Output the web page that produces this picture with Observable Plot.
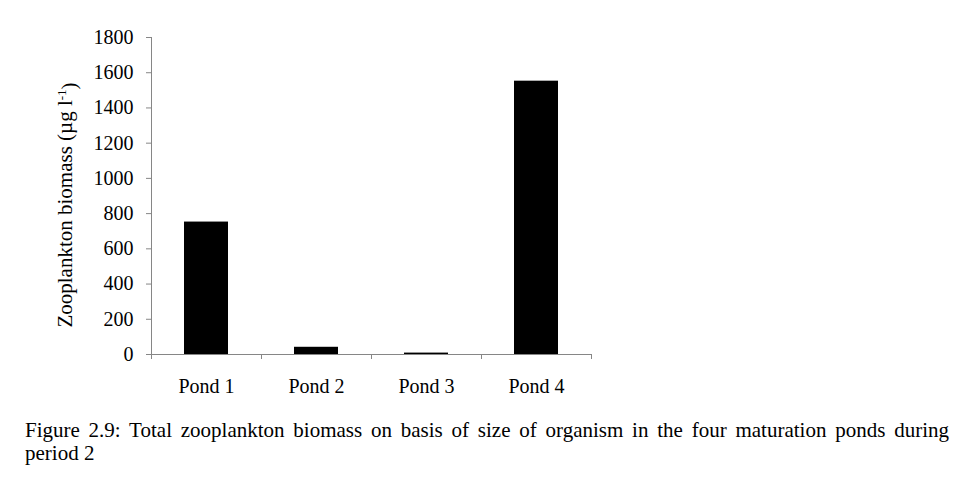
<!DOCTYPE html>
<html>
<head>
<meta charset="utf-8">
<script src="https://cdn.jsdelivr.net/npm/d3@7"></script>
<script src="https://cdn.jsdelivr.net/npm/@observablehq/plot@0.6"></script>
<style>
  html, body { margin: 0; padding: 0; background: #fff; }
  #wrap { position: relative; width: 969px; height: 483px; font-family: "Liberation Serif", "Times New Roman", serif; }
  #caption { position: absolute; left: 25px; top: 419px; width: 924px; font-size: 21px; line-height: 23px;
    text-align: justify; text-align-last: left; color: #000; }
</style>
</head>
<body>
<div id="wrap">
  <div id="chart"></div>
  <div id="caption">Figure 2.9: Total zooplankton biomass on basis of size of organism in the four maturation ponds during period 2</div>
</div>
<script>
const ponds = ["Pond 1", "Pond 2", "Pond 3", "Pond 4"];
const biomass = [752, 41, 8, 1552];
const yTicks = [0, 200, 400, 600, 800, 1000, 1200, 1400, 1600, 1800];

const data = ponds.map((p, i) => ({pond: p, idx: i, value: biomass[i]}));
const bounds = d3.range(ponds.length + 1);
const centers = ponds.map((p, i) => i + 0.5);

const axisColor = "#868686";
const plot = Plot.plot({
  width: 969,
  height: 400,
  marginLeft: 151,
  marginRight: 378,
  marginTop: 37,
  marginBottom: 46,
  style: {fontFamily: "'Liberation Serif', 'Times New Roman', serif", fontSize: "20px", color: "#000", background: "#fff"},
  x: {domain: [0, ponds.length]},
  y: {domain: [0, 1800]},
  marks: [
    Plot.rectY(data, {x1: d => d.idx + 0.3, x2: d => d.idx + 0.7, y: "value", fill: "#000"}),
    Plot.ruleX([0], {y1: 0, y2: 1800, stroke: axisColor}),
    Plot.ruleY([0], {stroke: axisColor}),
    Plot.axisY({ticks: yTicks, tickSize: 5, tickPadding: 13, tickFormat: d3.format("d"), stroke: axisColor, label: null, fill: "#000", fontSize: 20}),
    Plot.axisX({ticks: bounds, tickSize: 5, tickFormat: () => "", stroke: axisColor, label: null}),
    Plot.axisX({ticks: centers, tickSize: 0, tickPadding: 24, tickFormat: (d) => ponds[Math.floor(d)], label: null, fill: "#000", fontSize: 20})
  ]
});
document.getElementById("chart").appendChild(plot);

// y-axis title with superscript
const svg = d3.select(plot);
const t = svg.append("text")
  .attr("transform", "translate(72,205) rotate(-90)")
  .attr("text-anchor", "middle")
  .style("font-family", "'Liberation Serif', 'Times New Roman', serif")
  .style("font-size", "21px")
  .attr("fill", "#000");
t.append("tspan").text("Zooplankton biomass (µg l");
t.append("tspan").attr("dy", "-0.45em").style("font-size", "13px").text("-1");
t.append("tspan").attr("dy", "0.45em").text(")");
</script>
</body>
</html>
